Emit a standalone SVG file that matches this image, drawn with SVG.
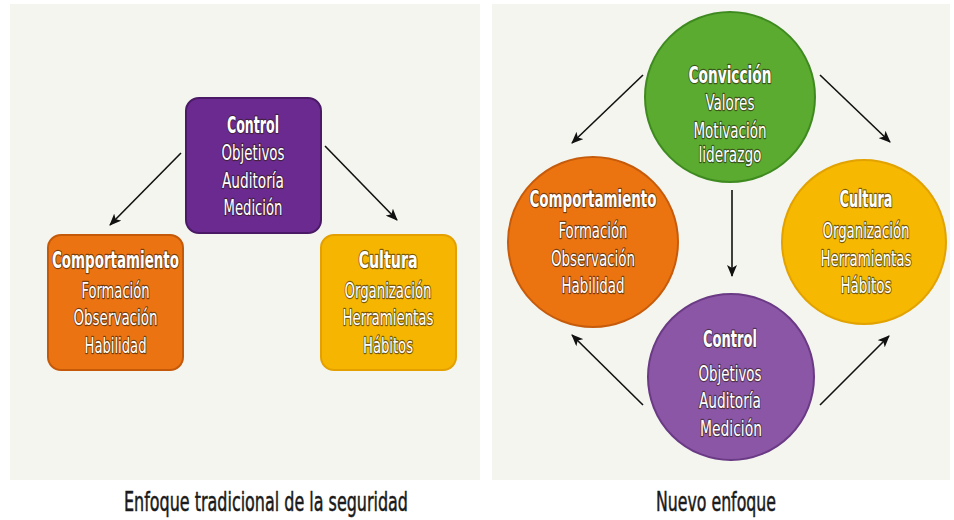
<svg xmlns="http://www.w3.org/2000/svg" width="954" height="520" viewBox="0 0 954 520">
<defs>
<marker id="ah" viewBox="0 0 12 10" refX="11" refY="5" markerWidth="12" markerHeight="10" markerUnits="userSpaceOnUse" orient="auto">
<path d="M0,0 L12,5 L0,10 L3,5 Z" fill="#111"/>
</marker>
</defs>
<style>
.panel{fill:#f3f5ee}
.t{font-family:"DejaVu Sans Condensed","Liberation Sans",sans-serif;fill:#fff;text-anchor:middle;stroke:#2a1a10;stroke-opacity:.6;stroke-width:2.4;paint-order:stroke;stroke-linejoin:round}
.h{font-size:23px;font-weight:bold}
.i{font-size:22px}
.cap{font-family:"DejaVu Sans Condensed","Liberation Sans",sans-serif;fill:#1a1a1a;text-anchor:middle;font-size:26px;stroke:#1a1a1a;stroke-width:0.5}
.arr{stroke:#111;stroke-width:1.6;fill:none;marker-end:url(#ah)}
</style>
<rect width="954" height="520" fill="#fff"/>
<rect class="panel" x="10" y="4" width="470" height="476"/>
<rect class="panel" x="492" y="4" width="458" height="476"/>

<g id="connectors">
<line class="arr" x1="181" y1="153" x2="110" y2="225"/>
<line class="arr" x1="325" y1="146" x2="397" y2="220"/>
<line class="arr" x1="643" y1="75" x2="572" y2="143"/>
<line class="arr" x1="820" y1="75" x2="890" y2="142"/>
<line class="arr" x1="732" y1="190" x2="732" y2="276"/>
<line class="arr" x1="643" y1="405" x2="572" y2="335"/>
<line class="arr" x1="820" y1="405" x2="889" y2="336"/>
</g>

<g id="l-control">
<rect x="186" y="98" width="135" height="135" rx="13" fill="#6b2a8f" stroke="#4a1a66" stroke-width="2"/>
<text class="t h" x="253" y="133" textLength="52" lengthAdjust="spacingAndGlyphs">Control</text>
<text class="t i" x="253" y="160" textLength="63" lengthAdjust="spacingAndGlyphs">Objetivos</text>
<text class="t i" x="253" y="188" textLength="62" lengthAdjust="spacingAndGlyphs">Auditoría</text>
<text class="t i" x="253" y="215" textLength="59" lengthAdjust="spacingAndGlyphs">Medición</text>
</g>
<g id="l-comportamiento">
<rect x="48" y="235" width="135" height="135" rx="13" fill="#ec7311" stroke="#c4590a" stroke-width="2"/>
<text class="t h" x="115.5" y="268" textLength="127" lengthAdjust="spacingAndGlyphs">Comportamiento</text>
<text class="t i" x="115.5" y="298" textLength="68" lengthAdjust="spacingAndGlyphs">Formación</text>
<text class="t i" x="115.5" y="325" textLength="84" lengthAdjust="spacingAndGlyphs">Observación</text>
<text class="t i" x="115.5" y="353" textLength="62" lengthAdjust="spacingAndGlyphs">Habilidad</text>
</g>
<g id="l-cultura">
<rect x="321" y="235" width="135" height="135" rx="13" fill="#f6b500" stroke="#e3a000" stroke-width="2"/>
<text class="t h" x="388" y="268" textLength="59" lengthAdjust="spacingAndGlyphs">Cultura</text>
<text class="t i" x="388" y="298" textLength="87" lengthAdjust="spacingAndGlyphs">Organización</text>
<text class="t i" x="388" y="325" textLength="91" lengthAdjust="spacingAndGlyphs">Herramientas</text>
<text class="t i" x="388" y="353" textLength="50" lengthAdjust="spacingAndGlyphs">Hábitos</text>
</g>

<g id="r-conviccion">
<circle cx="730" cy="97" r="85" fill="#5aab2f" stroke="#3f8a20" stroke-width="2"/>
<text class="t h" x="730" y="83" textLength="83" lengthAdjust="spacingAndGlyphs">Convicción</text>
<text class="t i" x="730" y="110" textLength="49" lengthAdjust="spacingAndGlyphs">Valores</text>
<text class="t i" x="730" y="138" textLength="73" lengthAdjust="spacingAndGlyphs">Motivación</text>
<text class="t i" x="730" y="162" textLength="63" lengthAdjust="spacingAndGlyphs">liderazgo</text>
</g>
<g id="r-comportamiento">
<circle cx="593" cy="242" r="85" fill="#ec7410" stroke="#c65b0b" stroke-width="2"/>
<text class="t h" x="593" y="207" textLength="127" lengthAdjust="spacingAndGlyphs">Comportamiento</text>
<text class="t i" x="593" y="238" textLength="69" lengthAdjust="spacingAndGlyphs">Formación</text>
<text class="t i" x="593" y="266" textLength="84" lengthAdjust="spacingAndGlyphs">Observación</text>
<text class="t i" x="593" y="293" textLength="63" lengthAdjust="spacingAndGlyphs">Habilidad</text>
</g>
<g id="r-cultura">
<circle cx="864" cy="242" r="82" fill="#f6b800" stroke="#e2a200" stroke-width="2"/>
<text class="t h" x="866" y="207" textLength="53" lengthAdjust="spacingAndGlyphs">Cultura</text>
<text class="t i" x="866" y="238" textLength="87" lengthAdjust="spacingAndGlyphs">Organización</text>
<text class="t i" x="866" y="266" textLength="91" lengthAdjust="spacingAndGlyphs">Herramientas</text>
<text class="t i" x="866" y="293" textLength="51" lengthAdjust="spacingAndGlyphs">Hábitos</text>
</g>
<g id="r-control">
<circle cx="731" cy="377" r="83" fill="#8b56a6" stroke="#6a3a85" stroke-width="2"/>
<text class="t h" x="730" y="347" textLength="54" lengthAdjust="spacingAndGlyphs">Control</text>
<text class="t i" x="730" y="381" textLength="63" lengthAdjust="spacingAndGlyphs">Objetivos</text>
<text class="t i" x="730" y="408" textLength="62" lengthAdjust="spacingAndGlyphs">Auditoría</text>
<text class="t i" x="731" y="436" textLength="62" lengthAdjust="spacingAndGlyphs">Medición</text>
</g>

<text class="cap" x="266" y="511" textLength="284" lengthAdjust="spacingAndGlyphs">Enfoque tradicional de la seguridad</text>
<text class="cap" x="716" y="511" textLength="120" lengthAdjust="spacingAndGlyphs">Nuevo enfoque</text>
</svg>
